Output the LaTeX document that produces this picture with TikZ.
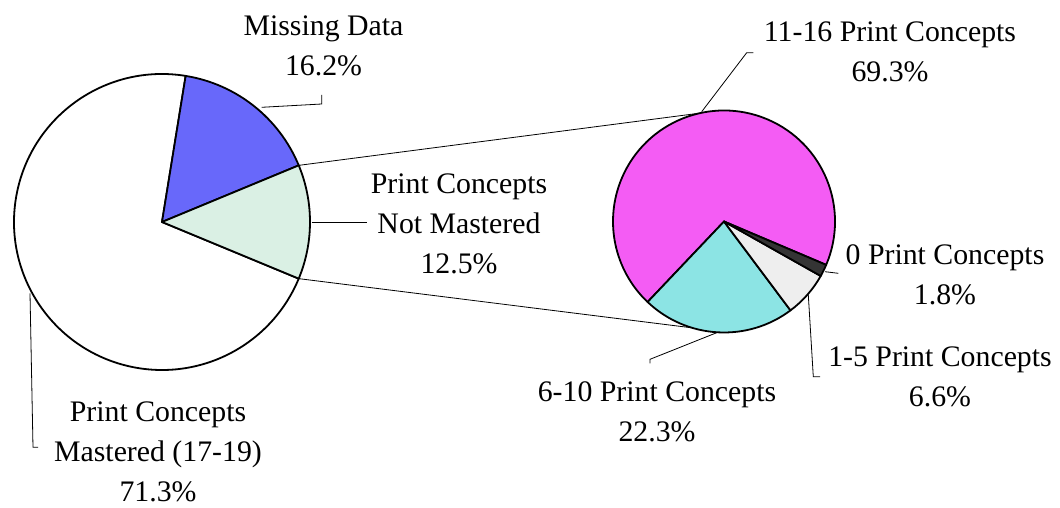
\documentclass[tikz,border=0pt]{standalone}
\usepackage{fontspec}
\setmainfont{Liberation Serif}
\usetikzlibrary{calc}
\definecolor{missblue}{RGB}{104,104,250}
\definecolor{palegreen}{RGB}{218,240,228}
\definecolor{pinkfill}{RGB}{244,92,244}
\definecolor{cyanfill}{RGB}{140,228,228}
\definecolor{lightfill}{RGB}{238,238,238}
\definecolor{darkfill}{RGB}{52,52,52}
\begin{document}
\begin{tikzpicture}[x=1pt,y=1pt,
  slice/.style={draw=black,line width=1.8pt,line join=round},
  leader/.style={draw=black,line width=0.8pt},
  lbl/.style={align=center,inner sep=0pt,font=\fontsize{29.8}{40}\selectfont}]
\useasboundingbox (0,0) rectangle (1060,-508);
\fill[white] (0,0) rectangle (1060,-508);

% left pie
\coordinate (L) at (162,-222);
\def\rl{148}
\draw[slice,fill=white]     (L) -- ++(80.8:\rl)  arc[start angle=80.8,end angle=337.5,radius=\rl] -- cycle;
\draw[slice,fill=missblue]  (L) -- ++(22.5:\rl)  arc[start angle=22.5,end angle=80.8,radius=\rl] -- cycle;
\draw[slice,fill=palegreen] (L) -- ++(-22.5:\rl) arc[start angle=-22.5,end angle=22.5,radius=\rl] -- cycle;

% right pie
\coordinate (R) at (724,-221.5);
\def\rr{111}
\draw[slice,fill=pinkfill]  (R) -- ++(-23:\rr)   arc[start angle=-23,end angle=226.5,radius=\rr] -- cycle;
\draw[slice,fill=cyanfill]  (R) -- ++(226.5:\rr) arc[start angle=226.5,end angle=306.8,radius=\rr] -- cycle;
\draw[slice,fill=lightfill] (R) -- ++(306.8:\rr) arc[start angle=306.8,end angle=330.6,radius=\rr] -- cycle;
\draw[slice,fill=darkfill]  (R) -- ++(330.6:\rr) arc[start angle=330.6,end angle=337,radius=\rr] -- cycle;

% lines joining the two pies
\coordinate (lu) at ($(L)+(22.5:\rl)$);
\coordinate (ld) at ($(L)+(-22.5:\rl)$);
\coordinate (ru) at ($(R)+(102.5:\rr)$);
\coordinate (rd) at ($(R)+(253.4:\rr)$);
\draw[leader] (lu) -- (ru);
\draw[leader] (ld) -- (rd);

% labels
\node[lbl] (miss)  at (323.5,-46)  {Missing Data\\16.2\%};
\node[lbl] (notm)  at (459,-224)   {Print Concepts\\Not Mastered\\12.5\%};
\node[lbl] (mast)  at (158,-452)   {Print Concepts\\Mastered (17-19)\\71.3\%};
\node[lbl] (p1116) at (890,-52)    {11-16 Print Concepts\\69.3\%};
\node[lbl] (p0)    at (945,-275)   {0 Print Concepts\\1.8\%};
\node[lbl] (p15)   at (940,-376.5) {1-5 Print Concepts\\6.6\%};
\node[lbl] (p610)  at (657,-412)   {6-10 Print Concepts\\22.3\%};

% leader lines
\coordinate (m0) at (261.7,-107.3);
\coordinate (m1) at (321.7,-104);
\coordinate (m2) at (321.7,-95);
\draw[leader] (m0) -- (m1) -- (m2);
\coordinate (n0) at (311.7,-222);
\coordinate (n1) at (366.7,-222);
\draw[leader] (n0) -- (n1);
\coordinate (a0) at (30,-293.3);
\coordinate (a1) at (33,-447.3);
\coordinate (a2) at (38,-447.3);
\draw[leader] (a0) -- (a1) -- (a2);
\coordinate (b0) at (701.7,-111.7);
\coordinate (b1) at (746.7,-52.7);
\coordinate (b2) at (753.3,-52.7);
\draw[leader] (b0) -- (b1) -- (b2);
\coordinate (c0) at (825,-271.7);
\coordinate (c1) at (838.3,-273.3);
\draw[leader] (c0) -- (c1);
\coordinate (d0) at (808.3,-295);
\coordinate (d1) at (813.3,-376.7);
\coordinate (d2) at (820,-376.7);
\draw[leader] (d0) -- (d1) -- (d2);
\coordinate (e0) at (716.7,-332.7);
\coordinate (e1) at (650,-359.3);
\coordinate (e2) at (650,-363.3);
\draw[leader] (e0) -- (e1) -- (e2);
\end{tikzpicture}
\end{document}
